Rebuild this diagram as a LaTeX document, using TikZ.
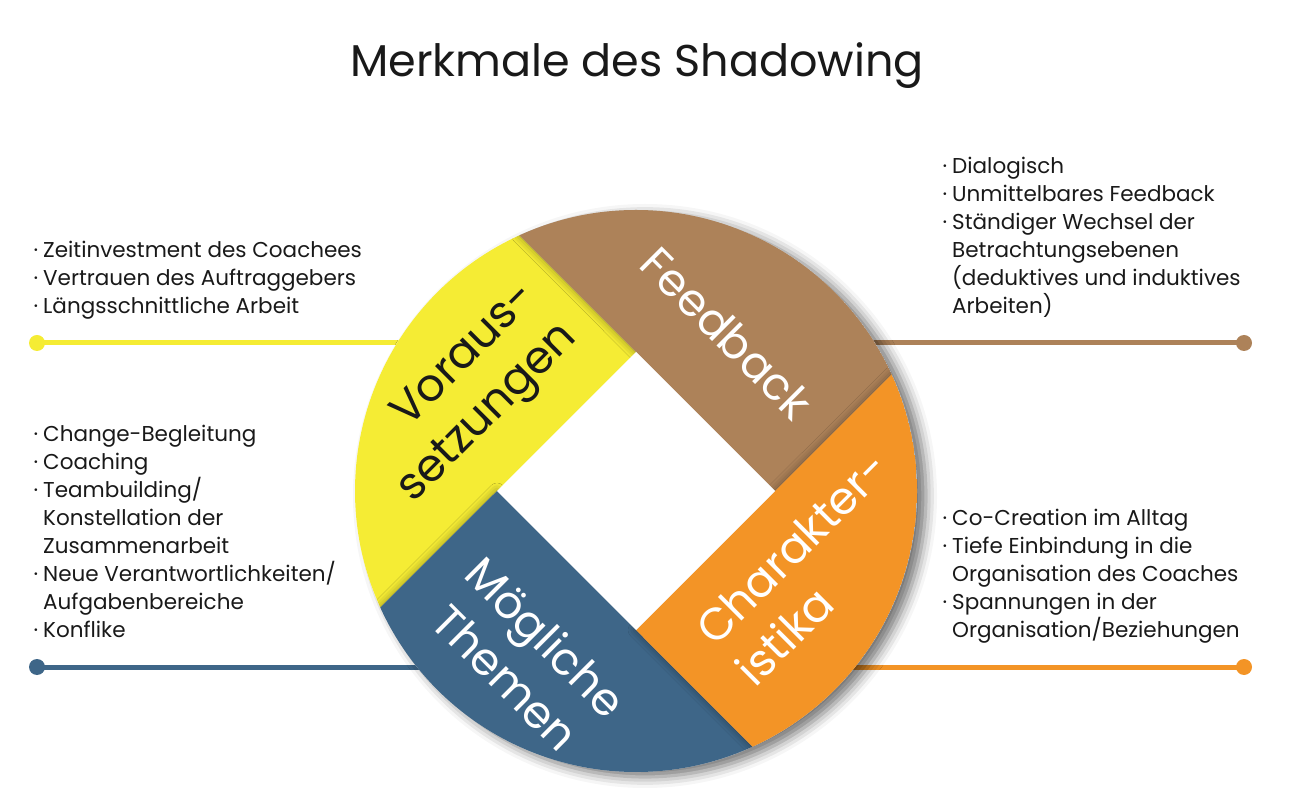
\documentclass[tikz,border=0pt]{standalone}
\usepackage{fontspec}
\setmainfont{Poppins}
\usetikzlibrary{shadows.blur}
\definecolor{cyel}{RGB}{245,236,52}
\definecolor{cbrn}{RGB}{173,130,89}
\definecolor{corg}{RGB}{243,148,38}
\definecolor{cblu}{RGB}{62,102,136}
\definecolor{ctxt}{RGB}{25,25,25}
\newcommand\bul{\llap{·\hspace{5pt}}}
\begin{document}
\begin{tikzpicture}[x=1pt,y=1pt,
 listtext/.style={anchor=base west, inner sep=0pt, text=ctxt, font=\fontsize{21.5}{26}\selectfont},
 seglabel/.style={text=white, inner sep=0pt, font=\fontsize{45}{57}\selectfont},
 dotnode/.style={circle, fill=#1, minimum size=16pt, inner sep=0pt},
 conn/.style={line width=5pt, draw=#1},
 segshadow/.style={blur shadow={shadow xshift=0pt, shadow yshift=0pt, shadow blur radius=8pt, shadow opacity=40}}
]
\useasboundingbox (0,0) rectangle (1305,811);
\node[anchor=base, inner sep=0pt, text=ctxt, font=\fontsize{44.5}{52}\selectfont] (title) at (637,734) {Merkmale des Shadowing};

% connectors
\node[dotnode=cyel] (dv) at (37,468) {};
\coordinate (ev) at (420,468);
\node[dotnode=cbrn] (df) at (1244,468) {};
\coordinate (ef) at (850,468);
\node[dotnode=cblu] (dm) at (37,144) {};
\coordinate (em) at (440,144);
\node[dotnode=corg] (dc) at (1244,144) {};
\coordinate (ec) at (830,144);
\draw[conn=cyel] (dv.center) -- (ev);
\draw[conn=cbrn] (df.center) -- (ef);
\draw[conn=cblu] (dm.center) -- (em);
\draw[conn=corg] (dc.center) -- (ec);

% wheel
\begin{scope}[shift={(636,320)}]
 \coordinate (T) at (0,139);
 \coordinate (R) at (139,0);
 \coordinate (B) at (0,-139);
 \coordinate (L) at (-139,0);
 \coordinate (P1) at (114.5:281);
 \coordinate (P2) at (24.5:281);
 \coordinate (P3) at (-65.5:281);
 \coordinate (P4) at (204.5:281);
 \path[fill=white, blur shadow={shadow xshift=9pt, shadow yshift=-5pt, shadow blur radius=11pt, shadow opacity=55}] (0,0) circle[radius=281];
 \begin{scope}
  \clip (0,0) circle[radius=281];
  \fill[cyel] (L) -- (T) -- (P1) arc[start angle=114.5, end angle=204.5, radius=281] -- cycle;
  \path[fill=cbrn, segshadow] (T) -- (R) -- (P2) arc[start angle=24.5, end angle=114.5, radius=281] -- cycle;
  \path[fill=cblu, segshadow] (B) -- (L) -- (P4) arc[start angle=204.5, end angle=294.5, radius=281] -- cycle;
  \path[fill=corg, segshadow] (R) -- (B) -- (P3) arc[start angle=-65.5, end angle=24.5, radius=281] -- cycle;
 \end{scope}
 \fill[white] (T) -- (R) -- (B) -- (L) -- cycle;
\end{scope}

% segment labels
\node[seglabel, rotate=-45] (lfb) at (727,478) {Feedback};
\node[seglabel, rotate=45, align=right, text=ctxt] (lvs) at (469,416.5) {Voraus-\\setzungen};
\node[seglabel, rotate=-45, align=center] (lmt) at (526,154) {Mögliche\\Themen};
\node[seglabel, rotate=45, align=left] (lch) at (812,243) {Charakter-\\istika};

% lists
\foreach \txt [count=\i from 0] in {{\bul Zeitinvestment des Coachees},{\bul Vertrauen des Auftraggebers},{\bul Längsschnittliche Arbeit}}
  \node[listtext] (lt\i) at (43,553-28*\i) {\txt};
\foreach \txt [count=\i from 0] in {{\bul Dialogisch},{\bul Unmittelbares Feedback},{\bul Ständiger Wechsel der},{Betrachtungsebenen},{(deduktives und induktives},{Arbeiten)}}
  \node[listtext] (rt\i) at (952,637-28*\i) {\txt};
\foreach \txt [count=\i from 0] in {{\bul Change-Begleitung},{\bul Coaching},{\bul Teambuilding/},{Konstellation der},{Zusammenarbeit},{\bul Neue Verantwortlichkeiten/},{Aufgabenbereiche},{\bul Konflike}}
  \node[listtext] (lb\i) at (43,369-28*\i) {\txt};
\foreach \txt [count=\i from 0] in {{\bul Co-Creation im Alltag},{\bul Tiefe Einbindung in die},{Organisation des Coaches},{\bul Spannungen in der},{Organisation/Beziehungen}}
  \node[listtext] (rb\i) at (952,285-28*\i) {\txt};
\end{tikzpicture}
\end{document}
